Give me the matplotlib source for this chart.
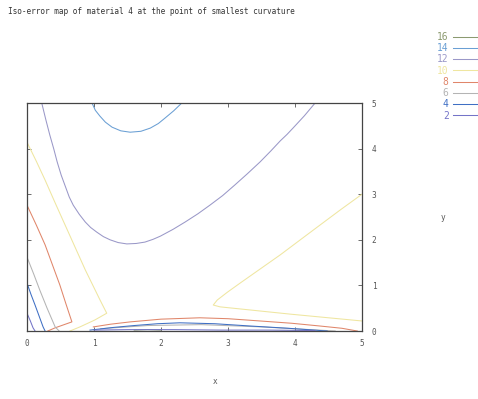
import matplotlib
matplotlib.use("Agg")
import matplotlib.pyplot as plt

# contour levels and colours (gnuplot style key)
levels = [16, 14, 12, 10, 8, 6, 4, 2]
colors = ["#8c9a70", "#6a9fd4", "#9a98c8", "#efe6a0", "#e0866a", "#b4b4b4", "#3f6fc4", "#7474c8"]

# contour polylines (x, y)
c14_x = [0.97, 1.02, 1.09, 1.17, 1.27, 1.40, 1.54, 1.70, 1.84, 1.96, 2.06, 2.19, 2.31]
c14_y = [5.00, 4.84, 4.71, 4.58, 4.47, 4.39, 4.36, 4.38, 4.45, 4.55, 4.67, 4.83, 5.00]

c12_x = [0.22, 0.28, 0.34, 0.40, 0.45, 0.51, 0.58, 0.63, 0.69, 0.78, 0.87, 0.95, 1.04, 1.14,
         1.24, 1.36, 1.49, 1.63, 1.76, 1.88, 1.99, 2.18, 2.36, 2.55, 2.73, 2.92, 3.10, 3.29,
         3.48, 3.64, 3.78, 3.88, 3.97, 4.14, 4.30]
c12_y = [5.00, 4.64, 4.30, 3.99, 3.71, 3.42, 3.14, 2.94, 2.76, 2.56, 2.39, 2.27, 2.17, 2.07,
         2.00, 1.94, 1.91, 1.92, 1.95, 2.01, 2.08, 2.23, 2.39, 2.57, 2.76, 2.97, 3.20, 3.45,
         3.71, 3.95, 4.17, 4.31, 4.45, 4.72, 5.00]

c10a_x = [0.00, 0.14, 0.27, 0.42, 0.57, 0.72, 0.87, 0.99, 1.09, 1.19, 1.01, 0.79, 0.64]
c10a_y = [4.14, 3.72, 3.31, 2.81, 2.32, 1.83, 1.34, 0.98, 0.68, 0.39, 0.24, 0.09, 0.00]
c10b_x = [5.00, 4.68, 4.37, 4.07, 3.78, 3.48, 3.18, 2.99, 2.84, 2.78, 2.88, 3.93, 5.00]
c10b_y = [3.00, 2.66, 2.32, 1.99, 1.67, 1.36, 1.05, 0.85, 0.68, 0.57, 0.53, 0.37, 0.22]

c8a_x = [0.00, 0.14, 0.27, 0.38, 0.49, 0.58, 0.67, 0.42, 0.31]
c8a_y = [2.76, 2.32, 1.89, 1.45, 1.01, 0.60, 0.20, 0.07, 0.00]
c8b_x = [0.99, 1.25, 1.54, 2.00, 2.58, 3.00, 3.48, 3.95, 4.37, 4.70, 4.93]
c8b_y = [0.09, 0.15, 0.20, 0.26, 0.29, 0.27, 0.22, 0.17, 0.11, 0.06, 0.00]

c6a_x = [0.00, 0.10, 0.19, 0.30, 0.42, 0.48]
c6a_y = [1.62, 1.25, 0.90, 0.50, 0.09, 0.00]
c6b_x = [1.10, 1.80, 2.60, 3.50, 4.60]
c6b_y = [0.05, 0.12, 0.14, 0.09, 0.00]

c4a_x = [0.00, 0.06, 0.12, 0.18, 0.24, 0.27]
c4a_y = [1.05, 0.80, 0.57, 0.33, 0.09, 0.00]
c4b_x = [0.94, 1.30, 1.60, 1.95, 2.28, 2.80, 3.33, 3.90, 4.48]
c4b_y = [0.02, 0.08, 0.12, 0.16, 0.18, 0.16, 0.11, 0.06, 0.00]

c2a_x = [0.00, 0.05, 0.09, 0.12]
c2a_y = [0.39, 0.22, 0.07, 0.00]
c2b_x = [1.00, 1.50, 2.20, 2.90, 3.60, 4.30]
c2b_y = [0.02, 0.03, 0.03, 0.02, 0.02, 0.01]

c16_x = [1.60, 1.80, 2.00]
c16_y = [0.02, 0.03, 0.02]

curves = {
    16: [(c16_x, c16_y)],
    14: [(c14_x, c14_y)],
    12: [(c12_x, c12_y)],
    10: [(c10a_x, c10a_y), (c10b_x, c10b_y)],
    8: [(c8a_x, c8a_y), (c8b_x, c8b_y)],
    6: [(c6a_x, c6a_y), (c6b_x, c6b_y)],
    4: [(c4a_x, c4a_y), (c4b_x, c4b_y)],
    2: [(c2a_x, c2a_y), (c2b_x, c2b_y)],
}

xticks = [0, 1, 2, 3, 4, 5]
yticks = [0, 1, 2, 3, 4, 5]

plt.rcParams['font.family'] = ['DejaVu Sans Mono']
fs = 5.6
grey = "#555555"

fig = plt.figure(figsize=(4.78, 3.99), dpi=100)
ax = fig.add_axes([0.0565, 0.1704, 0.7008, 0.5714])

handles = []
for lev, col in zip(levels, colors):
    h = None
    for xs, ys in curves[lev]:
        h, = ax.plot(xs, ys, color=col, lw=0.75)
    handles.append(h)

ax.set_xlim(0, 5)
ax.set_ylim(0, 5)
ax.set_xticks(xticks)
ax.set_yticks(yticks)
ax.tick_params(direction='in', length=3, width=0.6, colors=grey, labelsize=fs,
               top=True, right=True, labelleft=False, labelright=True)
ax.tick_params(axis='x', pad=6)
ax.tick_params(axis='y', pad=7)
for s in ax.spines.values():
    s.set_color("#444444")
    s.set_linewidth(0.9)

fig.text(8 / 478, 1 - 12 / 399, "Iso-error map of material 4 at the point of smallest curvature",
         fontsize=fs, color="#333333", va='center', ha='left')
fig.text(215 / 478, 1 - 381 / 399, "x", fontsize=fs, color=grey, ha='center', va='center')
fig.text(443 / 478, 1 - 217 / 399, "y", fontsize=fs, color=grey, ha='center', va='center')

leg = fig.legend(handles, [str(l) for l in levels], loc='upper left',
                 bbox_to_anchor=(437 / 478, 1 - 32 / 399), frameon=False,
                 markerfirst=False, labelcolor='linecolor', fontsize=fs + 1.3,
                 handlelength=3.4, handletextpad=0.5, labelspacing=0.13,
                 borderaxespad=0, borderpad=0)
for t in leg.get_texts():
    t.set_ha('right')

fig.savefig("out.png", dpi=100)
